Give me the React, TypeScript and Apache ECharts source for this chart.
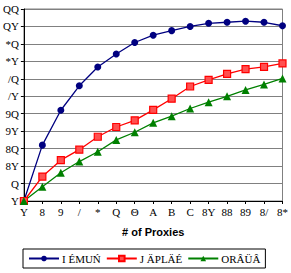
import React, { useEffect, useRef } from "react";
import * as echarts from "echarts";

const xValues = [0, 1, 2, 3, 4, 5, 6, 7, 8, 9, 10, 11, 12, 13, 14];
const seriesNames = ["I ÉMUŃ", "J ÄPLÄÉ", "ORÂÜÂ"];
const blueValues = [0, 16.0, 26.0, 33.0, 38.4, 42.1, 45.4, 47.5, 48.8, 50.0, 50.9, 51.2, 51.5, 51.2, 50.2];
const redValues = [0, 7.0, 11.7, 14.7, 18.4, 21.2, 23.1, 26.1, 29.3, 32.8, 34.7, 36.4, 37.8, 38.4, 39.4];
const greenValues = [0, 4.1, 8.1, 11.3, 14.1, 17.5, 19.7, 22.4, 24.3, 26.5, 28.3, 30.0, 31.8, 33.4, 35.1];
const digitGlyphs = ["Y", "8", "9", "/", "*", "Q", "Θ", "A", "B", "C"];
const xTitle = "# of Proxies";

const glyph = (v: number) =>
  String(v)
    .split("")
    .map((c) => (c >= "0" && c <= "9" ? digitGlyphs[Number(c)] : c))
    .join("");

export default function App() {
  const ref = useRef<HTMLDivElement>(null);
  useEffect(() => {
    if (!ref.current) return;
    const chart = echarts.init(ref.current, null, { renderer: "svg" });
    const pts = (arr: number[]) => arr.map((v, i) => [xValues[i], v]);
    chart.setOption({
      animation: false,
      backgroundColor: "#ffffff",
      grid: {
        left: 21,
        right: 4,
        top: 9,
        bottom: 72,
        show: true,
        borderColor: "#808080",
        borderWidth: 1,
      },
      xAxis: {
        type: "value",
        min: 0,
        max: 14,
        interval: 1,
        name: xTitle,
        nameLocation: "middle",
        nameGap: 25,
        nameTextStyle: { fontFamily: "Liberation Sans", fontWeight: "bold", fontSize: 11, color: "#000" },
        axisLine: { lineStyle: { color: "#000", width: 1 } },
        axisTick: { show: true, length: 3, lineStyle: { color: "#000" } },
        axisLabel: { margin: 5, fontFamily: "Liberation Serif", fontSize: 11, color: "#000", formatter: (v: number) => glyph(v) },
        splitLine: { show: false },
      },
      yAxis: {
        type: "value",
        min: 0,
        max: 55,
        interval: 5,
        axisLine: { show: true, lineStyle: { color: "#000", width: 1 } },
        axisTick: { show: true, length: 3, lineStyle: { color: "#000" } },
        axisLabel: { margin: 5, fontFamily: "Liberation Serif", fontSize: 11, color: "#000", formatter: (v: number) => glyph(v) },
        splitLine: { show: true, lineStyle: { color: "#808080", width: 1 } },
      },
      legend: {
        left: 23,
        top: 249,
        orient: "horizontal",
        borderColor: "#000",
        borderWidth: 1,
        padding: [4, 5],
        itemGap: 5,
        itemWidth: 30,
        itemHeight: 7,
        textStyle: { fontFamily: "Liberation Serif", fontSize: 11, color: "#000", padding: [0, 0, 0, -2] },
        data: seriesNames,
      },
      series: [
        {
          name: seriesNames[0],
          type: "line",
          data: pts(blueValues),
          symbol: "circle",
          symbolSize: 7,
          itemStyle: { color: "#000080" },
          lineStyle: { color: "#000080", width: 1.3 },
        },
        {
          name: seriesNames[1],
          type: "line",
          data: pts(redValues),
          symbol: "rect",
          symbolSize: 7,
          itemStyle: { color: "#FF5050", borderColor: "#FF0000", borderWidth: 1.2 },
          lineStyle: { color: "#FF0000", width: 1.3 },
        },
        {
          name: seriesNames[2],
          type: "line",
          data: pts(greenValues),
          symbol: "triangle",
          symbolSize: 8,
          itemStyle: { color: "#008000" },
          lineStyle: { color: "#008000", width: 1.3 },
        },
      ],
    });
    return () => chart.dispose();
  }, []);
  return (
    <div
      ref={ref}
      style={{ position: "absolute", left: 0, top: 0, width: 291, height: 273 }}
    />
  );
}
